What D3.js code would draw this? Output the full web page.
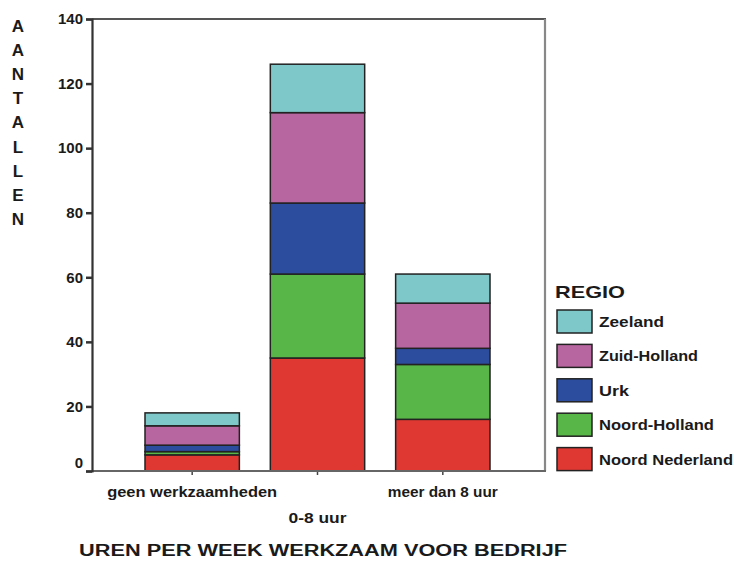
<!DOCTYPE html>
<html>
<head>
<meta charset="utf-8">
<script src="https://cdn.jsdelivr.net/npm/d3@7"></script>
<style>
  html, body { margin: 0; padding: 0; background: #fff; }
  svg { display: block; }
  text { font-family: "Liberation Sans", Arial, sans-serif; font-weight: bold; fill: #1a1a1a; }
</style>
</head>
<body>
<svg id="chart" width="734" height="562"></svg>
<script>
// ---- data ----
const categories = ["geen werkzaamheden", "0-8 uur", "meer dan 8 uur"];
const regions = ["Noord Nederland", "Noord-Holland", "Urk", "Zuid-Holland", "Zeeland"]; // bottom to top
const noordNederland = [5, 35, 16];
const noordHolland   = [1, 26, 17];
const urk            = [2, 22, 5];
const zuidHolland    = [6, 28, 14];
const zeeland        = [4, 15, 9];
const yTicks = [0, 20, 40, 60, 80, 100, 120, 140];
const legendOrder = ["Zeeland", "Zuid-Holland", "Urk", "Noord-Holland", "Noord Nederland"];
const yTitle = "AANTALLEN";
const xTitle = "UREN PER WEEK WERKZAAM VOOR BEDRIJF";
const legendTitle = "REGIO";

const colors = {
  "Noord Nederland": "#df3832",
  "Noord-Holland": "#58b548",
  "Urk": "#2c4c9e",
  "Zuid-Holland": "#b8669f",
  "Zeeland": "#7ec8c9"
};

const seriesValues = {
  "Noord Nederland": noordNederland,
  "Noord-Holland": noordHolland,
  "Urk": urk,
  "Zuid-Holland": zuidHolland,
  "Zeeland": zeeland
};

const table = categories.map((c, i) => {
  const row = { cat: c };
  regions.forEach(r => row[r] = seriesValues[r][i]);
  return row;
});

const svg = d3.select("#chart");

const plot = { left: 92, right: 545, top: 19, bottom: 471 };

const x = d3.scaleBand().domain(categories).range([145, 490]).paddingInner(0.247).paddingOuter(0);
const y = d3.scaleLinear().domain([0, 140]).range([plot.bottom, plot.top]);

// frame: top and right lines
svg.append("line").attr("x1", plot.left).attr("x2", plot.right + 1).attr("y1", plot.top).attr("y2", plot.top)
  .attr("stroke", "#555").attr("stroke-width", 2);
svg.append("line").attr("x1", plot.right).attr("x2", plot.right).attr("y1", plot.top).attr("y2", plot.bottom)
  .attr("stroke", "#888").attr("stroke-width", 2.2);

// bars
const stack = d3.stack().keys(regions);
const stacked = stack(table);
svg.append("g").selectAll("g").data(stacked).join("g")
  .attr("fill", d => colors[d.key])
  .selectAll("rect").data(d => d).join("rect")
  .attr("x", d => x(d.data.cat))
  .attr("width", x.bandwidth())
  .attr("y", d => y(d[1]))
  .attr("height", d => y(d[0]) - y(d[1]))
  .attr("stroke", "#222")
  .attr("stroke-width", 1.5);

// x axis
svg.append("line").attr("x1", plot.left).attr("x2", plot.right + 1).attr("y1", plot.bottom).attr("y2", plot.bottom)
  .attr("stroke", "#666").attr("stroke-width", 2.2);
svg.append("g").selectAll("line").data(categories).join("line")
  .attr("x1", d => x(d) + x.bandwidth() / 2).attr("x2", d => x(d) + x.bandwidth() / 2)
  .attr("y1", plot.bottom + 1).attr("y2", plot.bottom + 4)
  .attr("stroke", "#444").attr("stroke-width", 1.5);

const xLabelPos = [
  { dy: 21, len: 170 },
  { dy: 47, len: 58 },
  { dy: 21, len: 110 }
];
svg.append("g").selectAll("text").data(categories).join("text")
  .attr("x", (d) => x(d) + x.bandwidth() / 2)
  .attr("y", (d, i) => plot.bottom + xLabelPos[i].dy + 5)
  .attr("text-anchor", "middle")
  .attr("font-size", 14)
  .attr("textLength", (d, i) => xLabelPos[i].len)
  .attr("lengthAdjust", "spacingAndGlyphs")
  .text(d => d);

// y axis
const yAxis = d3.axisLeft(y).tickValues(yTicks).tickSize(6).tickPadding(3).tickFormat(d3.format("d"));
const gy = svg.append("g").attr("transform", `translate(${plot.left},0)`).call(yAxis);
gy.select(".domain").attr("stroke", "#333").attr("stroke-width", 2.2);
gy.selectAll(".tick line").attr("stroke", "#333").attr("stroke-width", 2.5);
gy.selectAll(".tick text")
  .attr("font-size", 15).attr("font-family", "\"Liberation Sans\", Arial, sans-serif")
  .attr("font-weight", "bold").attr("fill", "#1a1a1a")
  .attr("dy", d => d === 0 ? "-0.25em" : "0.32em");

// y title, stacked letters
const yt = svg.append("text").attr("x", 18).attr("y", 32).attr("text-anchor", "middle").attr("font-size", 17);
yTitle.split("").forEach((ch, i) => {
  yt.append("tspan").attr("x", 18).attr("y", 32 + i * 24.1).text(ch);
});

// x title
svg.append("text").attr("x", 323).attr("y", 556).attr("text-anchor", "middle")
  .attr("font-size", 16).attr("textLength", 488).attr("lengthAdjust", "spacingAndGlyphs")
  .text(xTitle);

// legend
svg.append("text").attr("x", 555).attr("y", 298).attr("font-size", 17)
  .attr("textLength", 70).attr("lengthAdjust", "spacingAndGlyphs").text(legendTitle);
const legendLens = { "Zeeland": 65, "Zuid-Holland": 99, "Urk": 30, "Noord-Holland": 115, "Noord Nederland": 134 };
const lg = svg.append("g").selectAll("g").data(legendOrder).join("g")
  .attr("transform", (d, i) => `translate(557,${310 + i * 34.4})`);
lg.append("rect").attr("width", 35).attr("height", 23)
  .attr("fill", d => colors[d]).attr("stroke", "#222").attr("stroke-width", 1.5);
lg.append("text").attr("x", 42).attr("y", 17).attr("font-size", 14)
  .attr("textLength", d => legendLens[d]).attr("lengthAdjust", "spacingAndGlyphs")
  .text(d => d);
</script>
</body>
</html>
